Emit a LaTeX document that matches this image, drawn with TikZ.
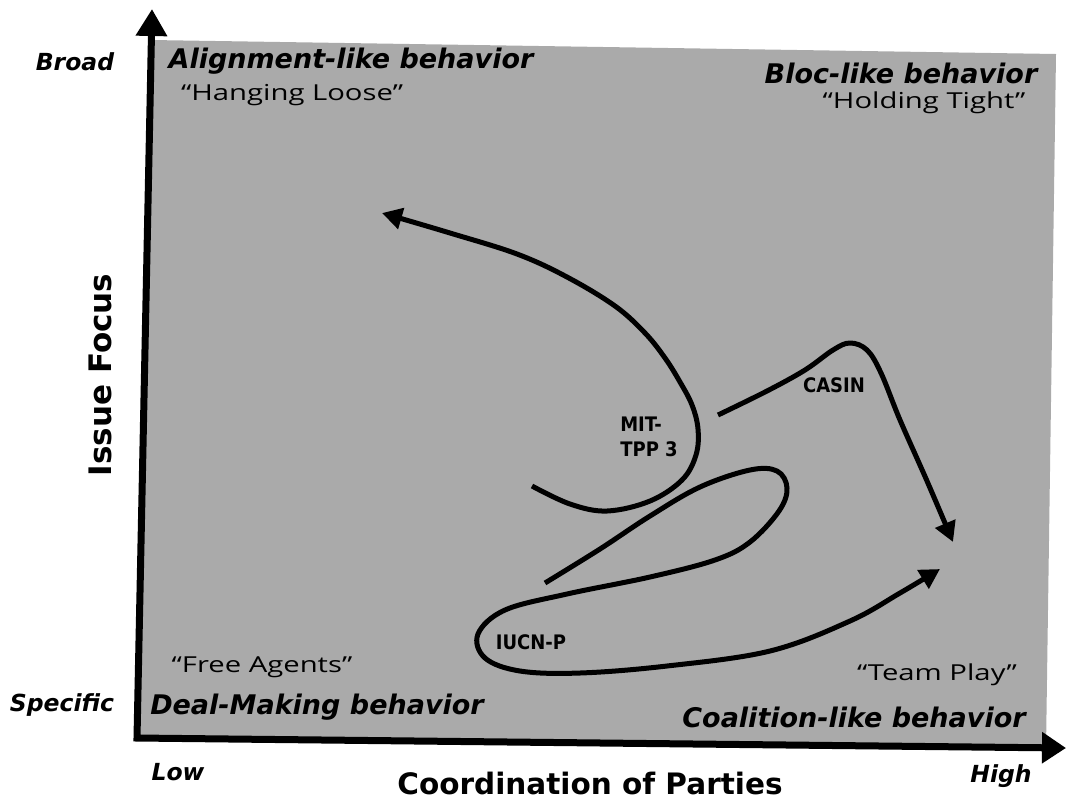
\documentclass[tikz,border=0pt]{standalone}
\usepackage{fontspec}
\setmainfont{DejaVu Sans}
\newfontfamily\condfont{DejaVu Sans Condensed}
\newfontfamily\handfont{Open Sans}[FakeStretch=1.33]
\usetikzlibrary{arrows.meta}
\definecolor{scan}{RGB}{170,170,170}
\begin{document}
\begin{tikzpicture}[x=1pt,y=-1pt,
  quad/.style={font=\fontsize{27}{30}\selectfont\bfseries\itshape, inner sep=0},
  side/.style={font=\fontsize{23.5}{28}\selectfont\bfseries\itshape, inner sep=0},
  hand/.style={font=\handfont\fontsize{22}{26}\selectfont, inner sep=0, anchor=base},
  axtitle/.style={font=\fontsize{29.5}{34}\selectfont\bfseries, inner sep=0},
  case/.style={font=\condfont\bfseries\fontsize{20}{25}\selectfont, inner sep=0, align=left},
  axisline/.style={line width=7pt, line join=miter,
    {Triangle[length=27pt,width=30pt]}-{Triangle[length=24pt,width=30pt]}},
  traj/.style={line width=5pt, line join=round,
    -{Triangle[length=20pt,width=21pt]}}
]
\useasboundingbox (0,0) rectangle (1067,804);
% quadrant field
\fill[scan] (151,40) -- (1056,54) -- (1046,748) -- (137,737) -- cycle;
% axes
\coordinate (ytip) at (152,9);
\coordinate (origin) at (137,738);
\coordinate (xtip) at (1066,748);
\draw[axisline] (ytip) -- (origin) -- (xtip);
% axis labels
\node[side] (broad) at (75,62) {Broad};
\node[side] (specific) at (62,705) {Specific};
\node[side] (low) at (178,772) {Low};
\node[side] (high) at (1001,776) {High};
\node[axtitle] (xtitle) at (590,783) {Coordination of Parties};
\node[axtitle, font=\fontsize{31}{34}\selectfont\bfseries, rotate=90] (ytitle) at (100,375) {Issue Focus};
% quadrant labels
\node[quad] (align) at (351,61) {Alignment-like behavior};
\node[hand] (hang) at (292,100) {“Hanging Loose”};
\node[quad] (bloc) at (901,73) {Bloc-like behavior};
\node[hand] (hold) at (924,108) {“Holding Tight”};
\node[hand] (free) at (262,672) {“Free Agents”};
\node[quad] (deal) at (317,707) {Deal-Making behavior};
\node[hand] (team) at (937,680) {“Team Play”};
\node[quad] (coal) at (854,717) {Coalition-like behavior};
% case labels
\node[case] (mit) at (649,437) {MIT-\\TPP 3};
\node[case] (casin) at (834,385) {CASIN};
\node[case] (iucn) at (531,642) {IUCN-P};
% trajectories
\coordinate (mitstart) at (532,486);
\coordinate (mitend) at (382,213);
\draw[traj] plot[smooth, tension=0.6] coordinates {(mitstart) (570,504) (607,511) (650,501) (682,480) (696,455) (698,429) (692,405) (680,382) (665,358) (645,333) (615,306) (567,277) (517,254) (450,233) (mitend)};
\coordinate (casstart) at (718,415);
\coordinate (casend) at (953,542);
\draw[traj] plot[smooth, tension=0.6] coordinates {(casstart) (767,391) (805,370) (833,350) (850,343) (867,350) (881,373) (900,420) (927,481) (casend)};
\coordinate (iucnstart) at (545,583);
\coordinate (iucnend) at (940,569);
\draw[traj] plot[smooth, tension=0.6] coordinates {(iucnstart) (600,549) (650,516) (700,487) (750,470) (777,471) (787,488) (779,511) (750,542) (715,560) (650,577) (567,594) (505,610) (478,634) (485,658) (520,671) (580,673) (667,666) (770,651) (850,621) (900,593) (iucnend)};
\end{tikzpicture}
\end{document}
